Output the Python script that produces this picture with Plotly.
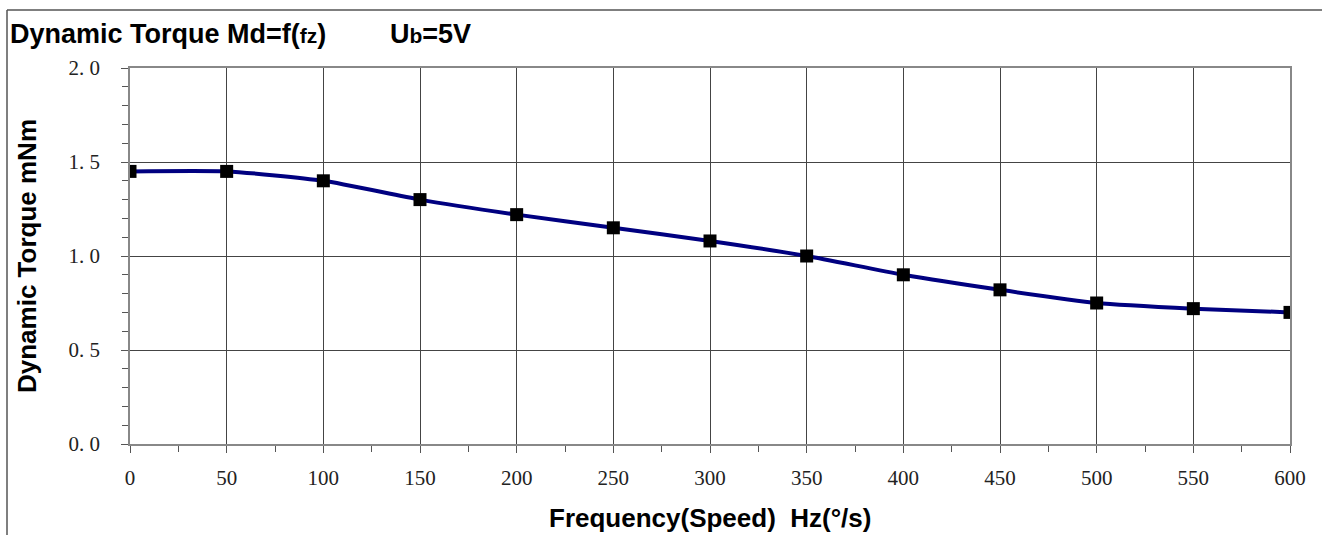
import plotly.graph_objects as go

freq = [0, 50, 100, 150, 200, 250, 300, 350, 400, 450, 500, 550, 600]
torque = [1.45, 1.45, 1.40, 1.30, 1.22, 1.15, 1.08, 1.00, 0.90, 0.82, 0.75, 0.72, 0.70]

x_ticks = [0, 50, 100, 150, 200, 250, 300, 350, 400, 450, 500, 550, 600]
y_ticks = [0.0, 0.5, 1.0, 1.5, 2.0]
y_tick_labels = ["0. 0", "0. 5", "1. 0", "1. 5", "2. 0"]

title_text = "Dynamic Torque Md=f(<span style='font-size:21px'>fz</span>)"
voltage_text = "U<span style='font-size:21px'>b</span>=5V"
x_title = "Frequency(Speed)  Hz(°/s)"
y_title = "Dynamic Torque mNm"

W, H = 1322, 535
ML, MR, MT, MB = 130, 32, 68, 91
PW, PH = W - ML - MR, H - MT - MB


def px(x):
    return (x - ML) / PW


def py(y):
    return (H - MB - y) / PH


fig = go.Figure()
fig.add_trace(go.Scatter(
    x=freq, y=torque, mode="lines+markers",
    line=dict(color="#000080", width=4, shape="spline", smoothing=0.6),
    marker=dict(symbol="square", size=13, color="black"),
    showlegend=False,
))

tick_font = dict(family="Liberation Serif, DejaVu Serif, serif", size=21, color="#222")
sans = "Liberation Sans, Arial, sans-serif"

fig.update_xaxes(
    range=[0, 600], tickvals=x_ticks, ticks="outside", ticklen=7, tickcolor="#555",
    showgrid=True, gridcolor="#444", gridwidth=1,
    showline=True, linecolor="#888", linewidth=1.5, mirror=True,
    zeroline=False, tickfont=tick_font, ticklabelstandoff=7,
    minor=dict(dtick=25, ticks="outside", ticklen=6, tickcolor="#555", showgrid=False),
)
fig.update_yaxes(
    range=[0, 2.0], tickvals=y_ticks, ticktext=y_tick_labels, ticks="outside", ticklen=7,
    tickcolor="#555", showgrid=True, gridcolor="#444", gridwidth=1,
    showline=True, linecolor="#888", linewidth=1.5, mirror=True,
    zeroline=False, tickfont=tick_font, ticklabelstandoff=17,
    minor=dict(dtick=0.1, ticks="outside", ticklen=6, tickcolor="#555", showgrid=False),
)

fig.update_layout(
    width=W, height=H,
    margin=dict(l=ML, r=MR, t=MT, b=MB),
    paper_bgcolor="white", plot_bgcolor="white",
    title=dict(text="<b>" + title_text + "</b>", x=10 / W, xanchor="left", xref="container",
               y=1 - 34 / H, yanchor="middle", yref="container",
               font=dict(family=sans, size=27, color="black")),
)
fig.add_annotation(
    text="<b>" + voltage_text + "</b>", xref="paper", yref="paper",
    x=px(388), y=py(34), xanchor="left", yanchor="middle", showarrow=False,
    font=dict(family=sans, size=27, color="black"),
)
fig.add_annotation(
    text="<b>" + x_title + "</b>", xref="paper", yref="paper",
    x=px(710), y=py(518), xanchor="center", yanchor="middle", showarrow=False,
    font=dict(family=sans, size=26, color="black"),
)
fig.add_annotation(
    text="<b>" + y_title + "</b>", xref="paper", yref="paper",
    x=px(27), y=py(256), xanchor="center", yanchor="middle", showarrow=False,
    textangle=-90, font=dict(family=sans, size=26, color="black"),
)
# outer frame (top and left edges visible)
fig.add_shape(type="line", xref="paper", yref="paper",
              x0=px(7), x1=px(W + 5), y0=py(10), y1=py(10),
              line=dict(color="#555", width=1.5))
fig.add_shape(type="line", xref="paper", yref="paper",
              x0=px(7), x1=px(7), y0=py(10), y1=py(H + 5),
              line=dict(color="#555", width=1.5))

fig.write_html("out.html", config={"displayModeBar": False},
               post_script="document.body.style.margin='0';")
